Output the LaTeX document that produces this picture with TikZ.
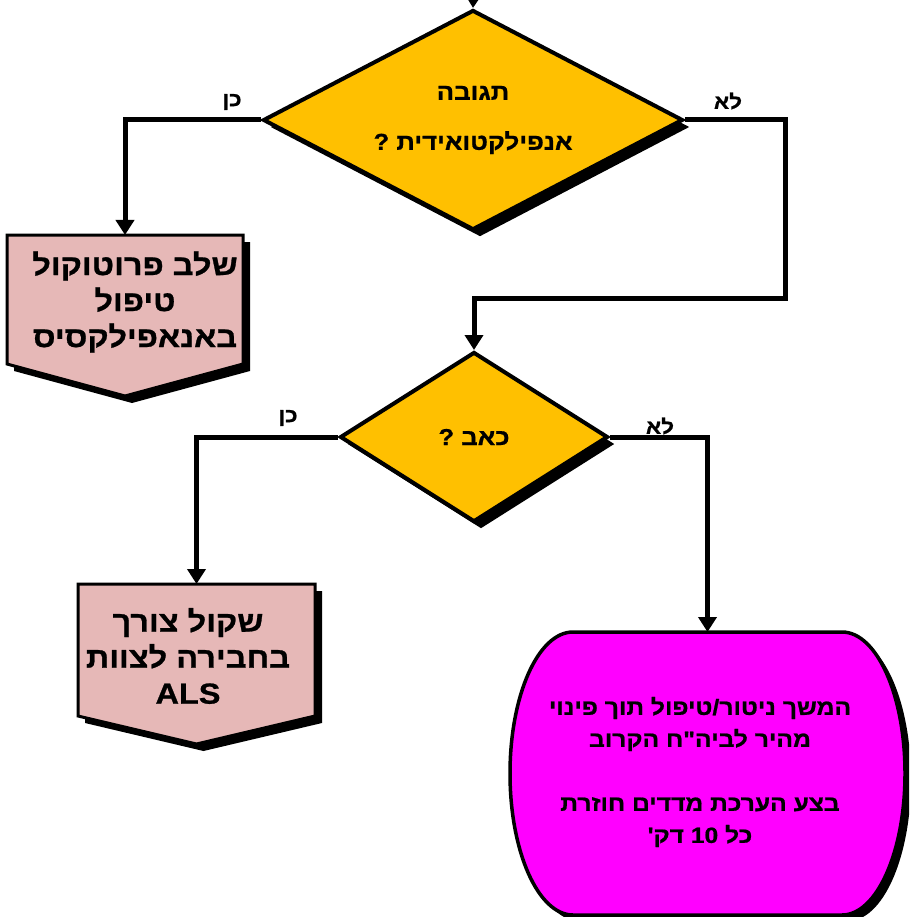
\documentclass[tikz,border=0pt]{standalone}
\usepackage{fontspec}
\setmainfont{Liberation Sans Bold}[Script=Hebrew, Ligatures=TeXOff, FakeBold=0.8]
\TeXXeTstate=1
\usetikzlibrary{shapes.geometric, arrows.meta}
\definecolor{gold}{HTML}{FFC000}
\definecolor{rosy}{HTML}{E6B8B7}
\definecolor{mag}{HTML}{FF00FF}
% right-to-left line, set a little wide
\newcommand\rl[1]{\scalebox{1.12}[1]{\beginR #1\endR}}
\newcommand\lr[1]{\scalebox{1.12}[1]{#1}}
\begin{document}
\begin{tikzpicture}[x=1pt, y=-1pt,
  shadowed/.style={preaction={fill=black, transform canvas={xshift=#1, yshift=-#1}}},
  decision/.style={shape=diamond, draw, line width=4pt, fill=gold, inner sep=0pt,
    shadowed=7pt, font=\fontsize{23}{50}\selectfont, align=center},
  holder/.style={inner sep=0pt, outer sep=0pt},
  pentbox/.style={draw, line width=3pt, fill=rosy, line join=miter, shadowed=7pt},
  boxtext/.style={font=\fontsize{29}{36}\selectfont, align=center},
  termtext/.style={font=\fontsize{22}{32}\selectfont, align=center},
  termbox/.style={draw, line width=3.5pt, fill=mag, shadowed=6pt},
  lbl/.style={font=\fontsize{20}{22}\selectfont},
  conn/.style={line width=5pt, -{Triangle[length=15pt, width=18pt]}}]
\useasboundingbox (0,0) rectangle (909,917);
\clip (0,0) rectangle (909,917);

% decisions
\node[decision, aspect=1.9, minimum width=420pt, minimum height=220pt] (d1) at (473,120)
  {\rl{תגובה}\\\rl{אנפילקטואידית ?}};
\node[decision, aspect=1.58, minimum width=268pt, minimum height=170pt] (d2) at (474,437)
  {\rl{כאב ?}};

% first action box
\node[holder, minimum width=236pt, minimum height=129pt] (p1) at (125,299.5) {};
\draw[pentbox] (p1.north west) -- (p1.north east) -- (p1.south east)
  -- ([yshift=-32pt]p1.south) -- (p1.south west) -- cycle;
\node[boxtext] (t1) at (135,302)
  {\rl{שלב פרוטוקול}\\\rl{טיפול}\\\rl{באנאפילקסיס}};

% second action box
\node[holder, minimum width=237pt, minimum height=132pt] (p2) at (196.5,650) {};
\draw[pentbox] (p2.north west) -- (p2.north east) -- (p2.south east)
  -- ([yshift=-28pt]p2.south) -- (p2.south west) -- cycle;
\node[boxtext] (t2) at (188,656)
  {\rl{שקול צורך}\\\rl{בחבירה לצוות}\\\lr{ALS}};

% terminal box with elliptic ends
\node[holder, minimum width=395pt, minimum height=283pt] (m) at (707.5,773.5) {};
\draw[termbox, shift={(m.center)}]
  (-134.5,-141.5) -- (134.5,-141.5)
  .. controls (169.3,-141.5) and (197.5,-78.15) .. (197.5,0)
  .. controls (197.5,78.15) and (169.3,141.5) .. (134.5,141.5)
  -- (-134.5,141.5)
  .. controls (-169.3,141.5) and (-197.5,78.15) .. (-197.5,0)
  .. controls (-197.5,-78.15) and (-169.3,-141.5) .. (-134.5,-141.5) -- cycle;
\node[termtext] (t3) at (700,772)
  {\rl{המשך ניטור/טיפול תוך פינוי}\\\rl{מהיר לביה"ח הקרוב}\\[32pt]
   \rl{בצע הערכת מדדים חוזרת}\\\rl{כל \beginL 10\endL{} דק'}};

% branch labels
\node[lbl] (yes1) at (232,102) {\rl{כן}};
\node[lbl] (no1) at (728,101) {\rl{לא}};
\node[lbl] (yes2) at (288,418) {\rl{כן}};
\node[lbl] (no2) at (660,426) {\rl{לא}};

% connectors
\coordinate (entry) at (474,-30);
\coordinate (bend) at (785,298);
\draw[conn] (entry) -- (d1.north);
\draw[conn] (d1.west) -| (p1.north);
\draw[conn] (d1.east) -| (bend) -| (d2.north);
\draw[conn] (d2.west) -| (p2.north);
\draw[conn] (d2.east) -| (m.north);
\end{tikzpicture}
\end{document}
